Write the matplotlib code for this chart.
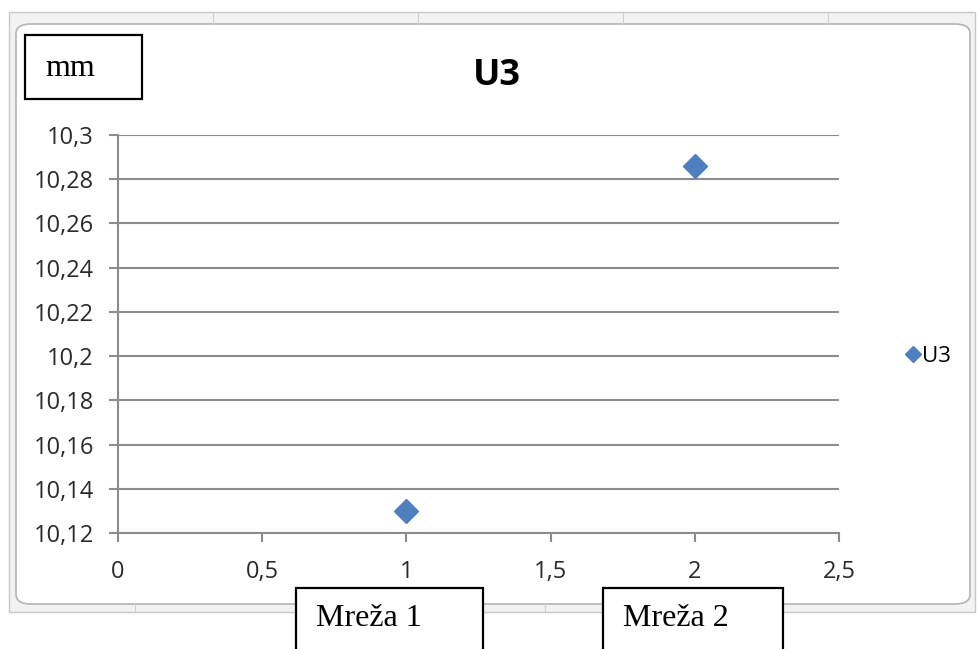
import matplotlib.pyplot as plt
from matplotlib.patches import FancyBboxPatch, Rectangle
from matplotlib.ticker import FuncFormatter

# data
series_name = "U3"
x_vals = [1, 2]
y_vals = [10.13, 10.286]
x_ticks = [0, 0.5, 1, 1.5, 2, 2.5]
y_ticks = [10.12, 10.14, 10.16, 10.18, 10.2, 10.22, 10.24, 10.26, 10.28, 10.3]
box_labels = ["mm", "Mreža 1", "Mreža 2"]

W, H = 978, 649
fig = plt.figure(figsize=(W / 100, H / 100), dpi=100)

def fx(px):
    return px / W

def fy(py):
    return 1 - py / H

# excel chart frame with the selection strip
fig.add_artist(Rectangle((fx(9), fy(612)), fx(975) - fx(9), fy(12) - fy(612),
                         transform=fig.transFigure, fc="#f2f2f2", ec="#c8c8c8", lw=1, zorder=-3))
fig.add_artist(FancyBboxPatch((fx(16), fy(604)), fx(970) - fx(16), fy(24) - fy(604),
                              boxstyle="round,pad=0,rounding_size=0.015",
                              transform=fig.transFigure, fc="white", ec="#b4b4b4", lw=1.2, zorder=-2))
for px in [213, 418, 623, 828]:
    fig.add_artist(plt.Line2D([fx(px), fx(px)], [fy(12), fy(24)], transform=fig.transFigure,
                              color="#cfcfcf", lw=0.8, zorder=-1))
for px in [135, 340, 545, 750]:
    fig.add_artist(plt.Line2D([fx(px), fx(px)], [fy(604), fy(612)], transform=fig.transFigure,
                              color="#cfcfcf", lw=0.8, zorder=-1))

ax = fig.add_axes([fx(118), fy(533), fx(839) - fx(118), fy(135) - fy(533)])
ax.set_facecolor("none")
ax.set_zorder(1)
ax.plot(x_vals, y_vals, ls="none", marker="D", ms=12, color="#4f7fbf", zorder=3,
        label=series_name, clip_on=False)

ax.set_xlim(0, 2.5)
ax.set_ylim(10.12, 10.3)
ax.set_xticks(x_ticks)
ax.set_yticks(y_ticks)
fmt = FuncFormatter(lambda v, p: ("%g" % round(v, 3)).replace(".", ","))
ax.xaxis.set_major_formatter(fmt)
ax.yaxis.set_major_formatter(fmt)

ax.grid(axis="y", color="#8c8c8c", lw=1.5)
ax.set_axisbelow(True)
for s in ["top", "right"]:
    ax.spines[s].set_visible(False)
for s in ["left", "bottom"]:
    ax.spines[s].set_color("#8c8c8c")
    ax.spines[s].set_linewidth(1.5)
ax.tick_params(colors="#8c8c8c", length=6.5, width=1.5, labelcolor="#2a2a2a", labelsize=17)
ax.tick_params(axis="x", pad=13)
ax.tick_params(axis="y", pad=11)
for lab in ax.get_xticklabels() + ax.get_yticklabels():
    lab.set_family("Open Sans")

fig.text(fx(497), fy(76), "U3", ha="center", va="center", fontsize=26, fontweight="bold",
         family="Open Sans")

ax_w = fx(839) - fx(118)
leg = ax.legend(loc="center left", bbox_to_anchor=((fx(885) - fx(118)) / ax_w, (10.2 - 10.12) / 0.18),
                frameon=False, handletextpad=0.05, handlelength=0.7, markerscale=0.7,
                prop={"family": "Open Sans", "size": 16})

# text boxes
boxes = [(25, 35, 142, 99, 45, 68), (296, 588, 483, 680, 316, 618), (603, 588, 783, 680, 623, 618)]
for label, (x0, y0, x1, y1, tx, ty) in zip(box_labels, boxes):
    fig.add_artist(Rectangle((fx(x0), fy(y1)), fx(x1) - fx(x0), fy(y0) - fy(y1),
                             transform=fig.transFigure, fc="white", ec="black", lw=1.6, zorder=5))
    fig.text(fx(tx), fy(ty), label, ha="left", va="center", fontsize=23,
             family="Liberation Serif", zorder=6)

fig.savefig("out.png", dpi=100)
